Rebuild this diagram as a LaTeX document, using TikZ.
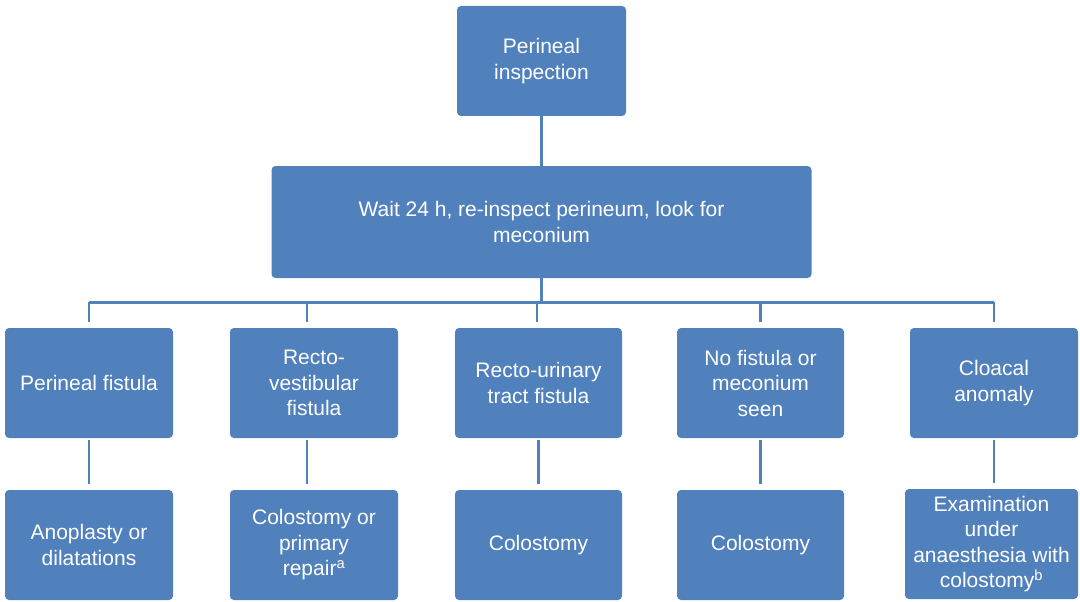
\documentclass[tikz,border=0pt]{standalone}
\usepackage{fontspec}
\setmainfont{Liberation Sans}
\definecolor{boxblue}{HTML}{5181BD}
\definecolor{lineblue}{HTML}{5181BD}
\begin{document}
\begin{tikzpicture}[x=1pt,y=-1pt,
  box/.style={fill=boxblue,draw=none,rounded corners=4pt,text=white,
    font=\fontsize{21}{25.5}\selectfont,align=center,inner sep=0pt,anchor=center},
  conn/.style={draw=lineblue,line width=2.5pt},
  gapend/.style={shorten >=5.5pt}]
\useasboundingbox (0,0) rectangle (1080,602);
% top
\node[box,minimum width=169pt,minimum height=110pt] (top) at (541.5,61) {Perineal\\inspection};
\node[box,minimum width=540pt,minimum height=112pt] (wait) at (541.5,222) {Wait 24 h, re-inspect perineum, look for\\meconium};
% row 1
\node[box,minimum width=168pt,minimum height=110pt] (r1a) at (89,383) {Perineal fistula};
\node[box,minimum width=168pt,minimum height=110pt] (r1b) at (314,383) {Recto-\\vestibular\\fistula};
\node[box,minimum width=167pt,minimum height=110pt] (r1c) at (538.5,383) {Recto-urinary\\tract fistula};
\node[box,minimum width=167pt,minimum height=110pt] (r1d) at (760.5,383) {No fistula or\\meconium\\seen};
\node[box,minimum width=168pt,minimum height=110pt] (r1e) at (994,383) {Cloacal\\anomaly};
% row 2
\node[box,minimum width=168pt,minimum height=110pt] (r2a) at (89,545) {Anoplasty or\\dilatations};
\node[box,minimum width=168pt,minimum height=110pt] (r2b) at (314,545) {Colostomy or\\primary\\repair\textsuperscript{a}};
\node[box,minimum width=167pt,minimum height=110pt] (r2c) at (538.5,545) {Colostomy};
\node[box,minimum width=167pt,minimum height=110pt] (r2d) at (760.5,545) {Colostomy};
\node[box,minimum width=173pt,minimum height=110pt] (r2e) at (991.5,544) {Examination\\under\\anaesthesia with\\colostomy\textsuperscript{b}};
% connectors
\coordinate (bus) at (541.5,302.3);
\draw[conn] (top.south) -- (wait.north);
\draw[conn] (wait.south) -- (bus);
\draw[conn] (r1a.north |- bus) -- (r1e.north |- bus);
\draw[conn,gapend] (r1a.north |- bus) -- (r1a.north);
\draw[conn,gapend] ([xshift=-7pt]r1b.north |- bus) -- ([xshift=-7pt]r1b.north);
\draw[conn,gapend] ([xshift=-1.5pt]r1c.north |- bus) -- ([xshift=-1.5pt]r1c.north);
\draw[conn,gapend] (r1d.north |- bus) -- (r1d.north);
\draw[conn,gapend] (r1e.north |- bus) -- (r1e.north);
\draw[conn,gapend,shorten <=2pt] (r1a.south) -- (r2a.north);
\draw[conn,gapend,shorten <=2pt] ([xshift=-7pt]r1b.south) -- ([xshift=-7pt]r1b.south |- r2b.north);
\draw[conn,gapend,shorten <=2pt] (r1c.south) -- (r2c.north);
\draw[conn,gapend,shorten <=2pt] (r1d.south) -- (r2d.north);
\draw[conn,gapend,shorten <=2pt] (r1e.south) -- (r1e.south |- r2e.north);
\end{tikzpicture}
\end{document}
